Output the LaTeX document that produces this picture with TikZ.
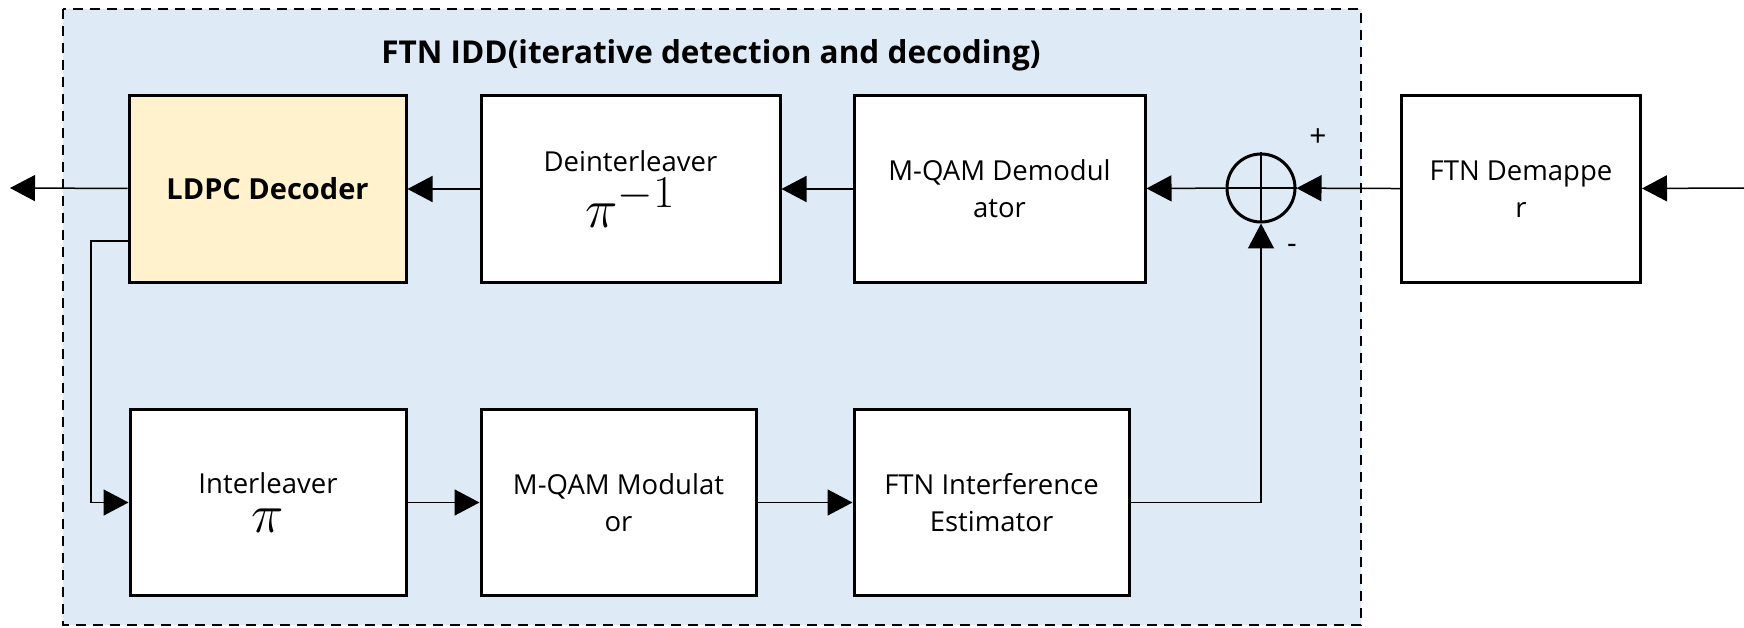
\documentclass[tikz,border=0pt]{standalone}
\usepackage{fontspec}
\setmainfont{Open Sans}
\usetikzlibrary{arrows.meta,positioning}
\definecolor{iddblue}{RGB}{222,234,246}
\definecolor{ldpcyellow}{RGB}{255,242,204}
\newcommand{\bigmath}[1]{\scalebox{2.2}{$#1$}}
\tikzset{
  block/.style={draw, line width=3pt, fill=white, minimum width=276pt,
    minimum height=186pt, align=center, font=\fontsize{27.5}{37}\selectfont},
  link/.style={line width=1.5pt, -{Triangle[length=25pt,width=26pt]}},
  sign/.style={font=\fontsize{30}{32}\selectfont},
}
\begin{document}
\begin{tikzpicture}[x=1pt,y=-1pt]
\useasboundingbox (0,0) rectangle (1744,628);
% IDD frame
\draw[fill=iddblue, line width=2.5pt, dash pattern=on 10pt off 7pt] (63,9) rectangle (1361,625);
\node[font=\bfseries\fontsize{31.5}{36}\selectfont] (title) at (711,55) {FTN IDD(iterative detection and decoding)};
% upper row
\node[block, fill=ldpcyellow, font=\bfseries\fontsize{29}{36}\selectfont, minimum width=277pt] (ldpc) at (267.5,189) {LDPC Decoder};
\node[block, minimum width=299pt] (deint) at (630.5,189) {Deinterleaver\\[6pt]\bigmath{\pi^{-1}}};
\node[block, minimum width=291pt] (demod) at (999.5,189) {M-QAM Demodul\\ator};
\node[draw, circle, line width=3pt, minimum size=68pt, inner sep=0pt] (sum) at (1261,188) {};
\draw[line width=2.5pt] (sum.north) -- (sum.south) (sum.west) -- (sum.east);
\node[sign] (plus) at (1318,138) {+};
\node[sign] (minus) at (1292,249) {-};
\node[block, minimum width=239pt] (demap) at (1521,189) {FTN Demappe\\r};
% lower row
\node[block] (inter) at (268,502.5) {Interleaver\\[2pt]\bigmath{\pi}};
\node[block, minimum width=275pt] (mod) at (618.5,502.5) {M-QAM Modulat\\or};
\node[block, minimum width=275pt] (est) at (991.5,502.5) {FTN Interference\\Estimator};
% connectors
\coordinate (in) at (1744,188);
\coordinate (out) at (10,188);
\coordinate (fb) at (91,241);
\draw[link] (in) -- (demap);
\draw[link] (demap) -- (sum);
\draw[link] (sum) -- (demod);
\draw[link] (demod) -- (deint);
\draw[link] (deint) -- (ldpc);
\draw[link] (ldpc) -- (out);
\draw[link] (ldpc.west |- fb) -- (fb) |- (inter);
\draw[link] (inter) -- (mod);
\draw[link] (mod) -- (est);
\draw[link] (est) -| (sum);
\end{tikzpicture}
\end{document}
